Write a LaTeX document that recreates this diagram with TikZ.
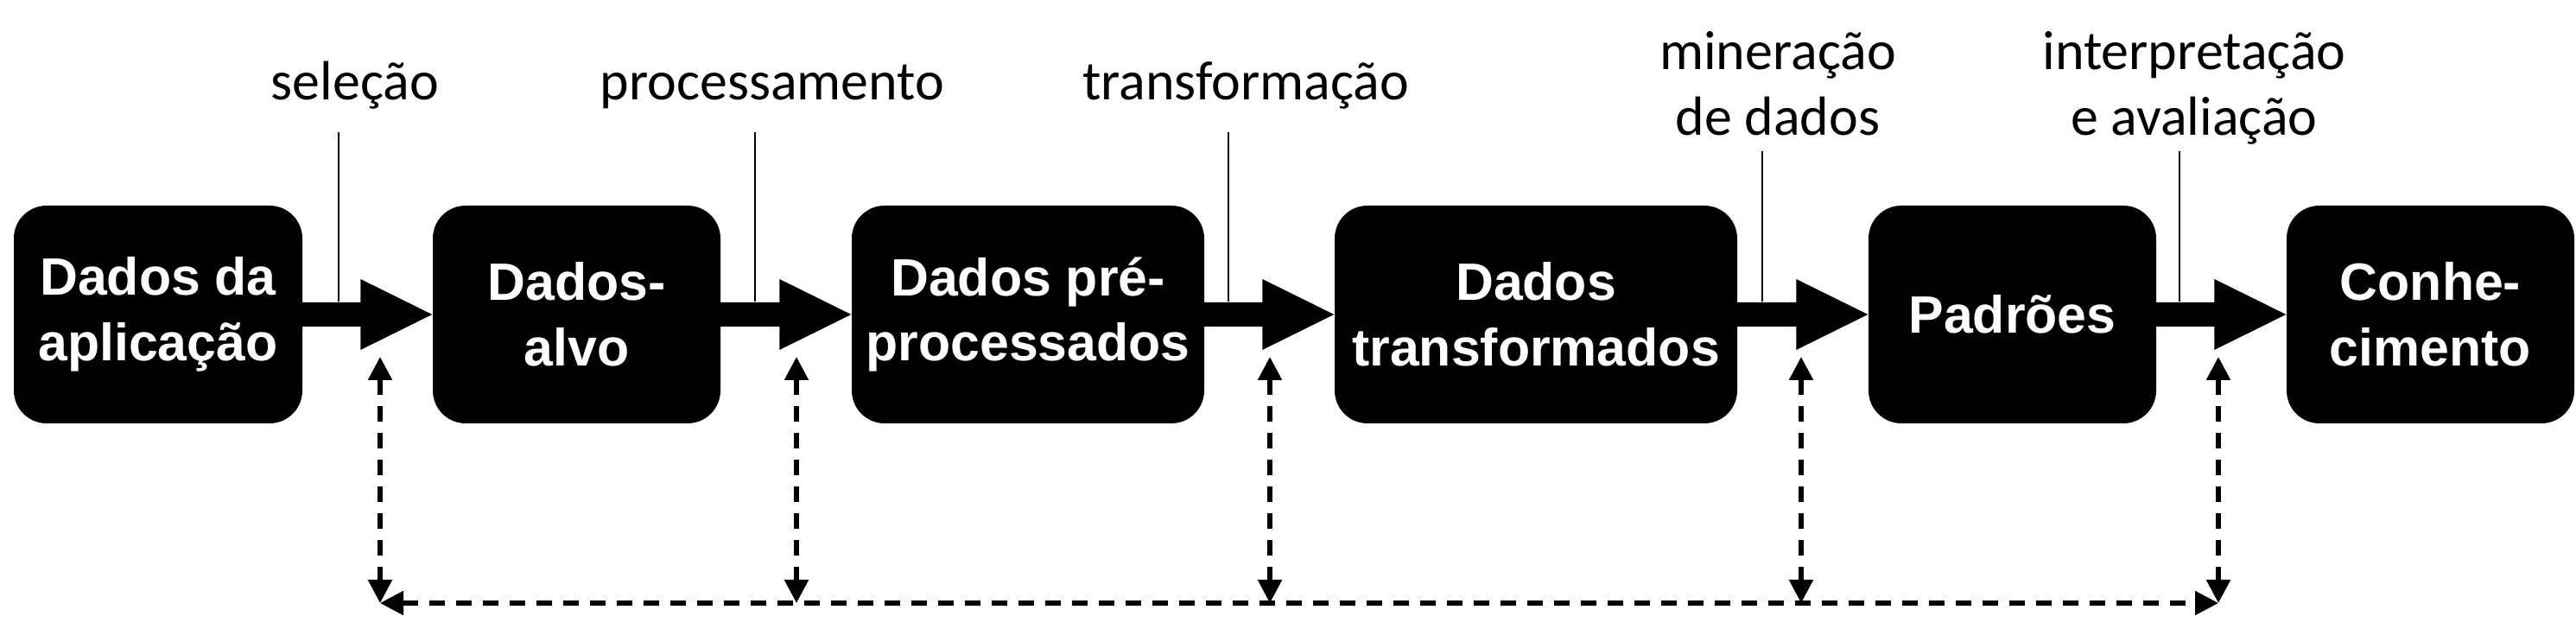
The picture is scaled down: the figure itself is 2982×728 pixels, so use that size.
\documentclass[tikz,border=0pt]{standalone}
\usepackage{fontspec}
\setmainfont{Carlito}
\newfontfamily\boxfont{Liberation Sans}
\usetikzlibrary{arrows.meta,calc}
\newcommand\kddarrow[2]{%
  \fill ($(#1.east)+(-1,-14)$) -- ($(#2.west)+(-83,-14)$) -- ($(#2.west)+(-83,-41)$) -- (#2.west)
    -- ($(#2.west)+(-83,41)$) -- ($(#2.west)+(-83,14)$) -- ($(#1.east)+(-1,14)$) -- cycle;}
\begin{document}
\begin{tikzpicture}[x=0.1mm,y=-0.1mm,
  box/.style={fill=black,text=white,rounded corners=3.8mm,minimum height=25.2mm,inner sep=0pt,
    align=center,font=\boxfont\bfseries\fontsize{17.3pt}{21.6pt}\selectfont},
  lbl/.style={align=center,font=\fontsize{18.2pt}{21.9pt}\selectfont,inner sep=0pt},
  thinline/.style={line width=0.2mm},
  fbline/.style={line width=0.55mm,dash pattern=on 1.8mm off 1.3mm,
    {Triangle[length=2.7mm,width=2.7mm]}-{Triangle[length=2.7mm,width=2.7mm]}}
]
\useasboundingbox (0,0) rectangle (2982,728);
% boxes
\node[box,minimum width=33.4mm] (b1) at (183,364) {Dados da\\aplicação};
\node[box,minimum width=33.3mm] (b2) at (667.5,364) {Dados-\\alvo};
\node[box,minimum width=40.8mm] (b3) at (1190,364) {Dados pré-\\processados};
\node[box,minimum width=46.6mm] (b4) at (1778,364) {Dados\\transformados};
\node[box,minimum width=33.3mm] (b5) at (2329.5,364) {Padrões};
\node[box,minimum width=33.3mm] (b6) at (2813.5,364) {Conhe-\\cimento};
% big arrows
\kddarrow{b1}{b2}
\kddarrow{b2}{b3}
\kddarrow{b3}{b4}
\kddarrow{b4}{b5}
\kddarrow{b5}{b6}
% labels
\node[lbl,anchor=base] (l1) at (411,116) {seleção};
\node[lbl,anchor=base] (l2) at (894,116) {processamento};
\node[lbl,anchor=base] (l3) at (1442,116) {transformação};
\node[lbl,anchor=base] (l4) at (2058,157) {mineração\\de dados};
\node[lbl,anchor=base] (l5) at (2540,157) {interpretação\\e avaliação};
% thin leader lines
\coordinate (t1) at (392,153);  \coordinate (s1) at (392,349);
\coordinate (t2) at (874,153);  \coordinate (s2) at (874,349);
\coordinate (t3) at (1422,153); \coordinate (s3) at (1422,349);
\coordinate (t4) at (2040,175); \coordinate (s4) at (2040,349);
\coordinate (t5) at (2523,175); \coordinate (s5) at (2523,349);
\foreach \i in {1,...,5} {\draw[thinline] (t\i) -- (s\i);}
% dashed feedback arrows
\coordinate (d1t) at (440,413);  \coordinate (d1b) at (440,698);
\coordinate (d2t) at (922,413);  \coordinate (d2b) at (922,698);
\coordinate (d3t) at (1470,413); \coordinate (d3b) at (1470,698);
\coordinate (d4t) at (2085,413); \coordinate (d4b) at (2085,698);
\coordinate (d5t) at (2568,413); \coordinate (d5b) at (2568,698);
\foreach \i in {1,...,5} {\draw[fbline] (d\i t) -- (d\i b);}
\draw[fbline] (d1b) -- (d5b);
\end{tikzpicture}
\end{document}
